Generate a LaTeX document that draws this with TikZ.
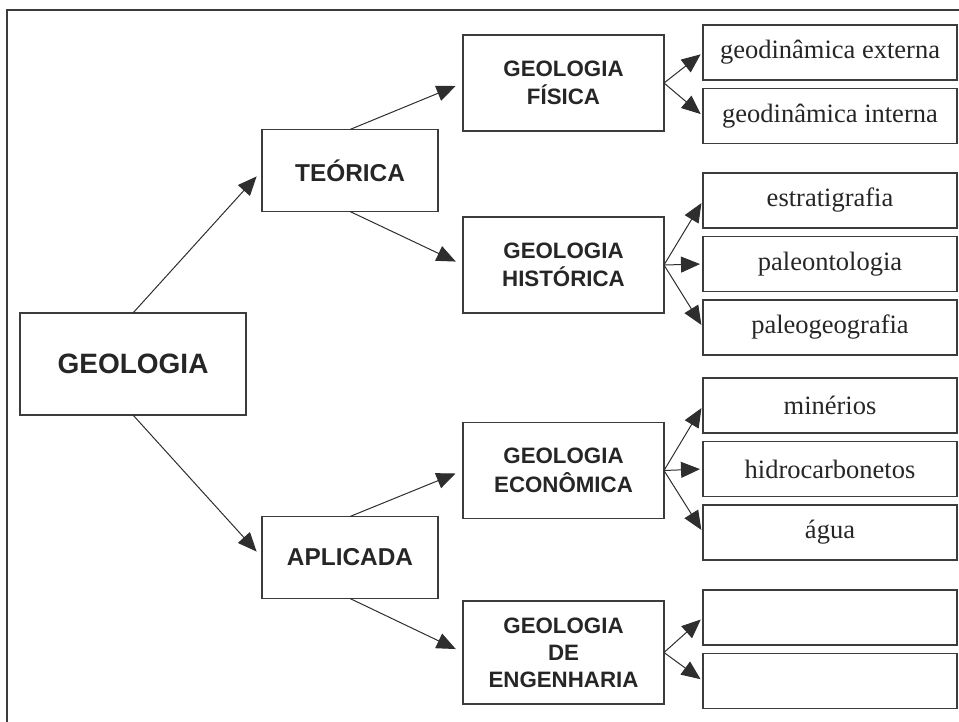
\documentclass[tikz,border=0pt]{standalone}
\usepackage{fontspec}
\setmainfont{Liberation Serif}
\setsansfont{Liberation Sans}
\usepackage{tikz}
\usetikzlibrary{positioning, arrows.meta}

\definecolor{borda}{HTML}{3C3C3C}
\definecolor{traco}{HTML}{2E2E2E}
\definecolor{letra}{HTML}{262626}

\tikzset{
	caixa/.style={draw=borda, line width=1.6pt, inner sep=0pt, outer sep=0pt, text=letra, align=center},
	raiz/.style={caixa, minimum width=226pt, minimum height=102pt, font=\sffamily\bfseries\fontsize{28}{34}\selectfont},
	ramo/.style={caixa, minimum width=176pt, minimum height=82pt, font=\sffamily\bfseries\fontsize{24.4}{30}\selectfont},
	area/.style={caixa, minimum width=201pt, minimum height=96pt, font=\sffamily\bfseries\fontsize{22.3}{28.5}\selectfont},
	folha/.style={caixa, minimum width=254pt, minimum height=55pt, font=\rmfamily\fontsize{26.5}{30}\selectfont},
	seta/.style={draw=traco, line width=1pt, -{Triangle[length=19pt,width=16pt]}},
}

\begin{document}
\begin{tikzpicture}[x=1pt, y=-1pt, node distance=8.5pt]
			\useasboundingbox (0,0) rectangle (959,722);
			\draw[borda, line width=1.6pt] (7,722) -- (7,10) -- (959,10);
			
			\node[raiz] (geo) at (133,364) {GEOLOGIA};
			\node[ramo] (teo) at (350,170.5) {TEÓRICA};
			\node[ramo] (apl) at (350,557.5) {APLICADA};
			
			\node[area] (fis) at (563.5,83) {GEOLOGIA\\FÍSICA};
			\node[area] (his) at (563.5,265) {GEOLOGIA\\HISTÓRICA};
			\node[area] (eco) at (563.5,470.5) {GEOLOGIA\\ECONÔMICA};
			\node[area, minimum height=103pt, font=\sffamily\bfseries\fontsize{22.3}{27}\selectfont] (eng) at (563.5,652.5) {GEOLOGIA\\DE\\ENGENHARIA};
			
			\node[folha] (ext) at (830,52.5) {geodinâmica externa};
			\node[folha, below=of ext] (int) {geodinâmica interna};
			\node[folha] (est) at (830,200.5) {estratigrafia};
			\node[folha, below=of est] (pal) {paleontologia};
			\node[folha, below=of pal] (pgeo) {paleogeografia};
			\node[folha] (min) at (830,405.5) {minérios};
			\node[folha, below=of min] (hid) {hidrocarbonetos};
			\node[folha, below=of hid] (agua) {água};
			\node[folha] (vaz1) at (830,617.5) {};
			\node[folha, below=of vaz1] (vaz2) {};
			
			\draw	(geo.north) edge[seta, shorten >=8pt] (teo.west)
					(geo.south) edge[seta, shorten >=8pt] (apl.west)
					(teo.north) edge[seta, shorten >=8pt] (fis.west)
					(teo.south) edge[seta, shorten >=8pt] (his.west)
					(apl.north) edge[seta, shorten >=8pt] (eco.west)
					(apl.south) edge[seta, shorten >=8pt] (eng.west);
			
			\draw	(fis.east) edge[seta, shorten >=3pt] (ext.west)
					(fis.east) edge[seta, shorten >=3pt] (int.west)
					(his.east) edge[seta, shorten >=3pt] (est.west)
					(his.east) edge[seta, shorten >=3pt] (pal.west)
					(his.east) edge[seta, shorten >=3pt] (pgeo.west)
					(eco.east) edge[seta, shorten >=3pt] (min.west)
					(eco.east) edge[seta, shorten >=3pt] (hid.west)
					(eco.east) edge[seta, shorten >=3pt] (agua.west)
					(eng.east) edge[seta, shorten >=3pt] (vaz1.west)
					(eng.east) edge[seta, shorten >=3pt] (vaz2.west);
		\end{tikzpicture}
\end{document}
